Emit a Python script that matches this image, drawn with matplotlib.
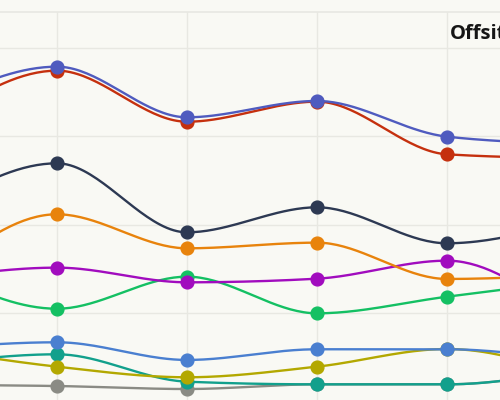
import matplotlib
matplotlib.use("Agg")
import matplotlib.pyplot as plt
import numpy as np

# x positions (index 0 and 5 lie just outside the visible crop)
steps = [0, 1, 2, 3, 4, 5]

# series values (drawn bottom to top)
gray = [1.85, 1.73, 1.39, 1.92, 1.92, 3.66]
teal = [4.11, 5.32, 2.22, 1.92, 1.92, 3.66]
olive = [6.02, 3.92, 2.72, 3.92, 5.92, 2.76]
blue = [5.90, 6.68, 4.68, 5.89, 5.89, 4.47]
green = [15.40, 10.48, 14.11, 9.96, 11.84, 13.70]
purple = [13.74, 15.13, 13.47, 13.88, 15.92, 8.40]
orange = [13.18, 21.17, 17.32, 17.96, 13.85, 14.37]
navy = [21.11, 26.94, 19.13, 21.96, 17.89, 20.67]
red = [30.86, 37.43, 31.65, 33.92, 27.96, 27.51]
indigo = [33.15, 37.88, 32.15, 34.00, 29.96, 29.14]

series = [
    (gray, "#8a8b84"),
    (teal, "#12a08c"),
    (olive, "#b3a800"),
    (blue, "#4a7fd0"),
    (green, "#14c063"),
    (purple, "#a10cbe"),
    (orange, "#e8830c"),
    (navy, "#2d3953"),
    (red, "#c5300e"),
    (indigo, "#4f5bbf"),
]

label_text = "Offsite"
bg = "#f9f9f4"
grid_col = "#e8e8e2"


def monotone_x(xs, ys, n=40):
    # d3-style monotone cubic interpolation
    xs = np.asarray(xs, float)
    ys = np.asarray(ys, float)
    h = np.diff(xs)
    s = np.diff(ys) / h
    m = np.zeros_like(ys)
    for i in range(1, len(ys) - 1):
        p = (s[i - 1] * h[i] + s[i] * h[i - 1]) / (h[i - 1] + h[i])
        m[i] = (np.sign(s[i - 1]) + np.sign(s[i])) * min(
            abs(s[i - 1]), abs(s[i]), 0.5 * abs(p))
    m[0] = (3 * s[0] - m[1]) / 2
    m[-1] = (3 * s[-1] - m[-2]) / 2
    out_x, out_y = [], []
    for i in range(len(xs) - 1):
        t = np.linspace(0, 1, n)
        h00 = 2 * t**3 - 3 * t**2 + 1
        h10 = t**3 - 2 * t**2 + t
        h01 = -2 * t**3 + 3 * t**2
        h11 = t**3 - t**2
        out_x.append(xs[i] + t * h[i])
        out_y.append(h00 * ys[i] + h10 * h[i] * m[i]
                     + h01 * ys[i + 1] + h11 * h[i] * m[i + 1])
    return np.concatenate(out_x), np.concatenate(out_y)


def main() -> None:
    fig = plt.figure(figsize=(5, 4), dpi=100, facecolor=bg)
    ax = fig.add_axes([0, 0, 1, 1 - 12 / 400])
    ax.set_facecolor(bg)

    ax.set_xlim(1 - 57 / 130, 1 + 443 / 130)
    ax.set_ylim(0.147, 44.07)

    for v in [10, 20, 30, 40]:
        ax.axhline(v, color=grid_col, lw=1, zorder=0)
    ax.axhline(44.07, color=grid_col, lw=1.2, zorder=0, clip_on=False)
    for x in steps[1:5]:
        ax.axvline(x, color=grid_col, lw=1, zorder=0)

    for k, (vals, col) in enumerate(series):
        sx, sy = monotone_x(steps, vals)
        ax.plot(sx, sy, color=col, lw=1.7, zorder=2 + k, solid_capstyle="round")
        ax.plot(steps, vals, "o", color=col, ms=9.2, mec=col, zorder=2 + k)

    for side in ax.spines.values():
        side.set_visible(False)
    ax.set_xticks([])
    ax.set_yticks([])

    fig.text(450 / 500, 1 - 39 / 400, label_text, fontsize=14.5,
             fontweight="bold", color="#161616", ha="left", va="baseline",
             family=["Open Sans", "DejaVu Sans"])

    fig.savefig("out.png", dpi=100, facecolor=bg)
    plt.close(fig)


if __name__ == "__main__":
    main()
